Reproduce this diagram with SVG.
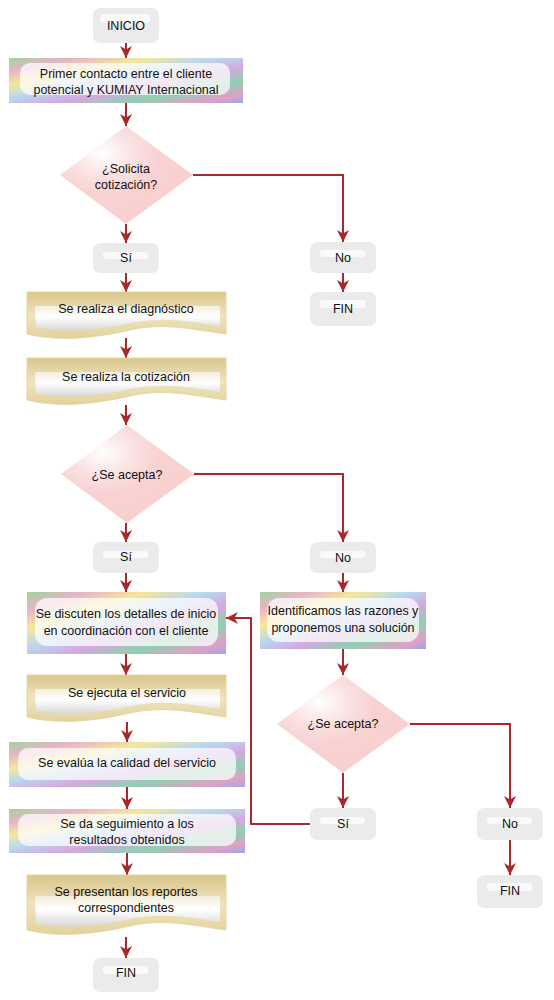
<svg xmlns="http://www.w3.org/2000/svg" width="554" height="1000" viewBox="0 0 554 1000">
<style>
.t{font-family:"Liberation Sans",Arial,sans-serif;font-size:12.5px;fill:#111;text-anchor:middle}
.c{fill:none;stroke:#A8282C;stroke-width:2}
.term{fill:#EBEBEB}
.hl{fill:#FFFFFF;opacity:0.75}
.dia{fill:url(#dg)}
.doc{fill:url(#bg);stroke:#E6D6A0;stroke-width:1}
.docin{fill:url(#wg)}
.mar{fill:url(#mg)}
.marin{fill:#FFFFFF;opacity:0.72}
</style>
<defs>
<marker id="ah" viewBox="0 0 10 10" refX="10" refY="5" markerWidth="12" markerHeight="12" markerUnits="userSpaceOnUse" orient="auto">
<path d="M0,0 L10,5 L0,10 L3,5 Z" fill="#A8282C"/>
</marker>
<radialGradient id="dg" cx="0.32" cy="0.28" r="0.7">
<stop offset="0" stop-color="#FFFFFF"/>
<stop offset="0.3" stop-color="#FBE4E4"/>
<stop offset="0.6" stop-color="#F8D2D2"/>
<stop offset="1" stop-color="#F8D0D0"/>
</radialGradient>
<linearGradient id="bg" x1="0" y1="0" x2="0" y2="1">
<stop offset="0" stop-color="#D9C68A"/>
<stop offset="0.5" stop-color="#EFE4C0"/>
<stop offset="1" stop-color="#E2D29C"/>
</linearGradient>
<linearGradient id="wg" x1="0" y1="0" x2="0" y2="1">
<stop offset="0" stop-color="#F4EEDC"/>
<stop offset="0.45" stop-color="#FFFFFF"/>
<stop offset="1" stop-color="#D8D8D8"/>
</linearGradient>
<linearGradient id="mg" x1="0" y1="0" x2="1" y2="1">
<stop offset="0" stop-color="#9FD49A"/>
<stop offset="0.15" stop-color="#E8B4C8"/>
<stop offset="0.3" stop-color="#F5E79A"/>
<stop offset="0.45" stop-color="#B8D8F0"/>
<stop offset="0.6" stop-color="#D6A8E0"/>
<stop offset="0.75" stop-color="#8FD0B0"/>
<stop offset="0.9" stop-color="#E0A0C8"/>
<stop offset="1" stop-color="#9AA8E8"/>
</linearGradient>
</defs>

<g id="connectors">
<path class="c" marker-end="url(#ah)" d="M126,43 V58"/>
<path class="c" marker-end="url(#ah)" d="M126,103 V126"/>
<path class="c" marker-end="url(#ah)" d="M126,224 V243"/>
<path class="c" marker-end="url(#ah)" d="M193,175 H343 V242"/>
<path class="c" marker-end="url(#ah)" d="M343,273 V292"/>
<path class="c" marker-end="url(#ah)" d="M126,273 V292"/>
<path class="c" marker-end="url(#ah)" d="M126,338 V358"/>
<path class="c" marker-end="url(#ah)" d="M126,405 V425"/>
<path class="c" marker-end="url(#ah)" d="M126,523 V542"/>
<path class="c" marker-end="url(#ah)" d="M194,474 H343 V542"/>
<path class="c" marker-end="url(#ah)" d="M126,572 V592"/>
<path class="c" marker-end="url(#ah)" d="M343,572 V592"/>
<path class="c" marker-end="url(#ah)" d="M343,649 V675"/>
<path class="c" marker-end="url(#ah)" d="M343,773 V808"/>
<path class="c" marker-end="url(#ah)" d="M410,724 H510 V808"/>
<path class="c" marker-end="url(#ah)" d="M510,840 V875"/>
<path class="c" marker-end="url(#ah)" d="M310,824 H251 V618 H226"/>
<path class="c" marker-end="url(#ah)" d="M126,654 V675"/>
<path class="c" marker-end="url(#ah)" d="M127,722 V742"/>
<path class="c" marker-end="url(#ah)" d="M127,787 V809"/>
<path class="c" marker-end="url(#ah)" d="M127,853 V875"/>
<path class="c" marker-end="url(#ah)" d="M126,937 V958"/>
</g>

<g id="inicio">
<rect class="term" x="93" y="8" width="66" height="35" rx="7"/>
<rect class="hl" x="100" y="14" width="50" height="9" rx="4"/>
<text class="t" x="126" y="30">INICIO</text>
</g>

<g id="primer-contacto">
<rect class="mar" x="9" y="58" width="234" height="45"/>
<rect class="marin" x="20" y="63" width="210" height="32" rx="10"/>
<text class="t" x="126" y="78">Primer contacto entre el cliente</text>
<text class="t" x="126" y="94">potencial y KUMIAY Internacional</text>
</g>

<g id="solicita-cotizacion">
<polygon class="dia" points="126,126 193,175 126,224 60,175"/>
<text class="t" x="126" y="173">¿Solicita</text>
<text class="t" x="126" y="189">cotización?</text>
</g>

<g id="si-1">
<rect class="term" x="93" y="243" width="66" height="30" rx="7"/>
<rect class="hl" x="103" y="252" width="45" height="7" rx="3"/>
<text class="t" x="126" y="262">Sí</text>
</g>

<g id="no-1">
<rect class="term" x="310" y="242" width="66" height="31" rx="7"/>
<rect class="hl" x="320" y="250" width="45" height="7" rx="3"/>
<text class="t" x="343" y="262">No</text>
</g>

<g id="fin-1">
<rect class="term" x="310" y="292" width="66" height="34" rx="7"/>
<rect class="hl" x="320" y="300" width="45" height="8" rx="3"/>
<text class="t" x="343" y="313">FIN</text>
</g>

<g id="diagnostico">
<path class="doc" d="M27,292 H226 V334 C195,330 165,322 130,330 C95,338 60,342 27,334 Z"/>
<path class="docin" d="M35,306 H220 V326 C192,322 165,316 130,323 C95,331 62,333 36,327 Z"/>
<text class="t" x="126" y="313">Se realiza el diagnóstico</text>
</g>

<g id="cotizacion">
<path class="doc" d="M27,358 H226 V400 C195,396 165,388 130,396 C95,404 60,408 27,400 Z"/>
<path class="docin" d="M35,372 H220 V392 C192,388 165,382 130,389 C95,397 62,399 36,393 Z"/>
<text class="t" x="126" y="381">Se realiza la cotización</text>
</g>

<g id="se-acepta-1">
<polygon class="dia" points="127,425 194,474 127,523 61,474"/>
<text class="t" x="127" y="479">¿Se acepta?</text>
</g>

<g id="si-2">
<rect class="term" x="93" y="542" width="66" height="31" rx="7"/>
<rect class="hl" x="103" y="551" width="45" height="7" rx="3"/>
<text class="t" x="126" y="561">Sí</text>
</g>

<g id="no-2">
<rect class="term" x="310" y="542" width="66" height="31" rx="7"/>
<rect class="hl" x="320" y="551" width="45" height="7" rx="3"/>
<text class="t" x="343" y="562">No</text>
</g>

<g id="se-discuten">
<rect class="mar" x="27" y="592" width="199" height="62"/>
<rect class="marin" x="35" y="598" width="183" height="48" rx="12"/>
<text class="t" x="126" y="618">Se discuten los detalles de inicio</text>
<text class="t" x="126" y="635">en coordinación con el cliente</text>
</g>

<g id="identificamos">
<rect class="mar" x="260" y="592" width="166" height="57"/>
<rect class="marin" x="267" y="598" width="152" height="44" rx="12"/>
<text class="t" x="343" y="615">Identificamos las razones y</text>
<text class="t" x="343" y="632">proponemos una solución</text>
</g>

<g id="se-acepta-2">
<polygon class="dia" points="343,675 410,724 343,773 277,724"/>
<text class="t" x="343" y="728">¿Se acepta?</text>
</g>

<g id="si-3">
<rect class="term" x="310" y="808" width="66" height="32" rx="7"/>
<rect class="hl" x="320" y="817" width="45" height="7" rx="3"/>
<text class="t" x="343" y="828">Sí</text>
</g>

<g id="no-3">
<rect class="term" x="477" y="808" width="66" height="32" rx="7"/>
<rect class="hl" x="487" y="817" width="45" height="7" rx="3"/>
<text class="t" x="510" y="828">No</text>
</g>

<g id="fin-3">
<rect class="term" x="477" y="875" width="66" height="33" rx="7"/>
<rect class="hl" x="487" y="883" width="45" height="8" rx="3"/>
<text class="t" x="510" y="895">FIN</text>
</g>

<g id="se-ejecuta">
<path class="doc" d="M27,675 H226 V717 C195,713 165,705 130,713 C95,721 60,725 27,717 Z"/>
<path class="docin" d="M35,689 H220 V709 C192,705 165,699 130,706 C95,714 62,716 36,710 Z"/>
<text class="t" x="127" y="697">Se ejecuta el servicio</text>
</g>

<g id="se-evalua">
<rect class="mar" x="9" y="742" width="236" height="45"/>
<rect class="marin" x="18" y="748" width="218" height="32" rx="10"/>
<text class="t" x="127" y="767">Se evalúa la calidad del servicio</text>
</g>

<g id="se-da-seguimiento">
<rect class="mar" x="9" y="809" width="236" height="44"/>
<rect class="marin" x="18" y="814" width="218" height="32" rx="10"/>
<text class="t" x="127" y="828">Se da seguimiento a los</text>
<text class="t" x="127" y="844">resultados obtenidos</text>
</g>

<g id="se-presentan">
<path class="doc" d="M27,875 H226 V930 C195,926 165,918 130,926 C95,934 60,938 27,930 Z"/>
<path class="docin" d="M35,896 H220 V922 C192,918 165,912 130,919 C95,927 62,929 36,923 Z"/>
<text class="t" x="126" y="896">Se presentan los reportes</text>
<text class="t" x="126" y="912">correspondientes</text>
</g>

<g id="fin-main">
<rect class="term" x="93" y="958" width="66" height="34" rx="7"/>
<rect class="hl" x="103" y="966" width="45" height="8" rx="3"/>
<text class="t" x="126" y="977">FIN</text>
</g>
</svg>
